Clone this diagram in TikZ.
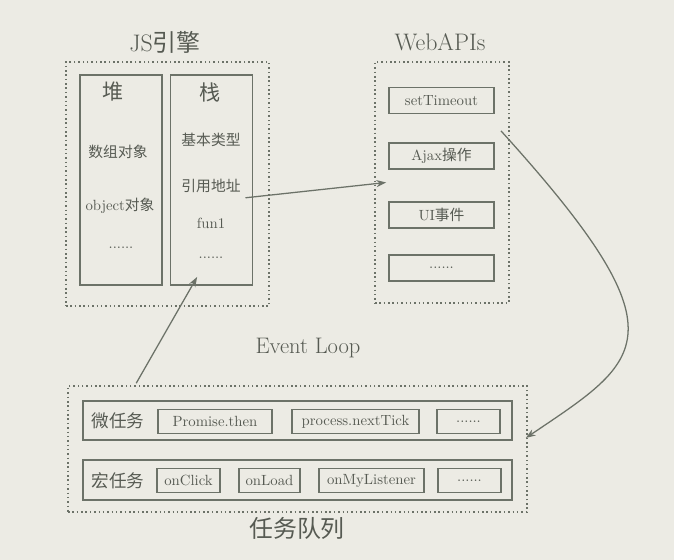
\documentclass[tikz,border=0pt]{standalone}
\usepackage{fontspec}
\newfontfamily\cjk{Noto Sans CJK SC}
\usetikzlibrary{arrows.meta, positioning, calc}
\definecolor{paper}{RGB}{236,235,228}
\definecolor{ink}{RGB}{108,114,104}
\definecolor{textink}{RGB}{86,90,82}

\begin{document}
\begin{tikzpicture}[font=\small, text=textink,
        region/.style={rectangle, draw=ink, line width=1.1pt, dotted, inner sep=0pt},
        column/.style={rectangle, draw=ink, line width=1.4pt, minimum width=2.05cm, minimum height=5.25cm, inner sep=0pt},
        apibox/.style={rectangle, draw=ink, line width=1.4pt, minimum width=2.625cm, minimum height=0.65cm, inner sep=0pt, font=\fontsize{10.5}{12}\selectfont},
        queuebar/.style={rectangle, draw=ink, line width=1.4pt, minimum width=10.725cm, minimum height=0.98cm, inner sep=0pt},
        taskbox/.style={rectangle, draw=ink, line width=1.1pt, minimum height=0.6cm, inner sep=0pt, font=\fontsize{10.5}{12}\selectfont},
        item/.style={font=\fontsize{10.5}{12}\selectfont},
        heading/.style={font=\fontsize{17}{20}\selectfont},
        flow/.style={draw=ink, line width=0.9pt, -{Stealth[length=7pt, width=5pt]}}]

      % 1. Paper (Background)
      \useasboundingbox (0,0) rectangle (16.85,14);
      \fill[paper] (0,0) rectangle (16.85,14);

      % 2. JS engine: heap and stack
      \node[heading] (jstitle) at (4.125, 12.95) {JS{\cjk 引擎}};
      \node[region, minimum width=5.075cm, minimum height=6.1cm] (engine) at (4.1875, 9.4) {};
      \node[column] (heap) at (3.025, 9.5) {};
      \node[column] (stack) at (5.2875, 9.5) {};

      \node[font=\fontsize{15}{18}\selectfont] (heaptitle) at (2.825, 11.7) {\cjk 堆};
      \node[item] (arrobj) at (2.95, 10.2) {\cjk 数组对象};
      \node[item] (objobj) at (3.0, 8.85) {object{\cjk 对象}};
      \node[item] (heapmore) at (3.025, 7.8) {......};

      \node[font=\fontsize{15}{18}\selectfont] (stacktitle) at (5.25, 11.7) {\cjk 栈};
      \node[item] (basic) at (5.275, 10.5) {\cjk 基本类型};
      \node[item] (addr) at (5.275, 9.35) {\cjk 引用地址};
      \node[item] (fun) at (5.275, 8.425) {fun1};
      \node[item] (stackmore) at (5.275, 7.55) {......};

      % 3. Web APIs
      \node[heading] (apititle) at (11.0, 12.95) {WebAPIs};
      \node[region, minimum width=3.35cm, minimum height=6.025cm] (apis) at (11.05, 9.4375) {};
      \node[apibox] (timer) at (11.0375, 11.4875) {setTimeout};
      \node[apibox] (ajax) at (11.0375, 10.1) {Ajax{\cjk 操作}};
      \node[apibox] (uievt) at (11.0375, 8.625) {UI{\cjk 事件}};
      \node[apibox] (apimore) at (11.0375, 7.3) {......};

      % 4. Task queue
      \node[font=\fontsize{16}{19}\selectfont] (loop) at (7.7, 5.3) {Event Loop};
      \node[region, minimum width=11.475cm, minimum height=3.15cm] (queue) at (7.4375, 2.775) {};
      \node[font=\fontsize{17}{20}\selectfont] (queuetitle) at (7.425, 0.8) {\cjk 任务队列};

      \node[queuebar] (micro) at (7.4375, 3.4875) {};
      \node[font=\fontsize{12.5}{15}\selectfont] (microlbl) at (2.95, 3.475) {\cjk 微任务};
      \node[taskbox, minimum width=2.85cm] (promise) at (5.375, 3.4625) {Promise.then};
      \node[taskbox, minimum width=3.175cm] (tick) at (8.8875, 3.4625) {process.nextTick};
      \node[taskbox, minimum width=1.575cm] (micromore) at (11.7125, 3.4625) {......};

      \node[queuebar] (macro) at (7.4375, 2.0) {};
      \node[font=\fontsize{12.5}{15}\selectfont] (macrolbl) at (2.95, 1.975) {\cjk 宏任务};
      \node[taskbox, minimum width=1.575cm] (click) at (4.7125, 1.9875) {onClick};
      \node[taskbox, minimum width=1.525cm] (load) at (6.7375, 1.9875) {onLoad};
      \node[taskbox, minimum width=2.625cm] (listener) at (9.2875, 1.9875) {onMyListener};
      \node[taskbox, minimum width=1.575cm] (macromore) at (11.7375, 1.9875) {......};

      % 5. Draw Connections
      \draw[flow] (addr.south east) -- ($(apis.west)+(0.3,0)$);
      \draw[flow] ($(timer.south east)+(0.15,-0.41)$) .. controls (17.2, 5.575) and (16.075, 5.025) .. ($(queue.east)+(-0.05,0.275)$);
      \draw[flow] ($(queue.north west)+(1.725,0.05)$) -- ($(stack.south)+(-0.36,0.225)$);
    \end{tikzpicture}
\end{document}
